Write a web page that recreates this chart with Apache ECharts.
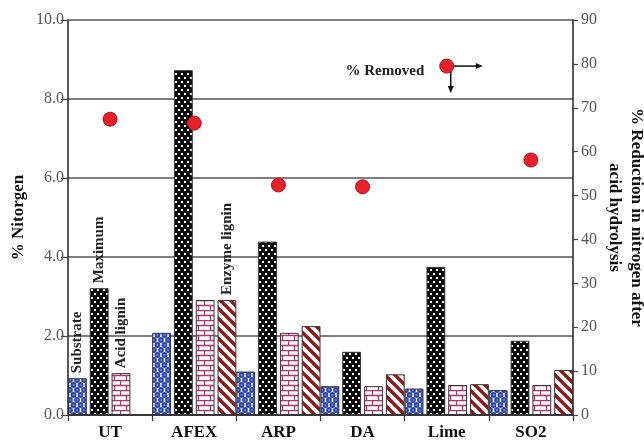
<!DOCTYPE html>
<html>
<head>
<meta charset="utf-8">
<script src="https://cdn.jsdelivr.net/npm/echarts@6/dist/echarts.min.js"></script>
<style>
  html, body { margin: 0; padding: 0; background: #fff; }
  #chart { width: 644px; height: 444px; }
</style>
</head>
<body>
<div id="chart"></div>
<script>
// Nitrogen content of pretreated substrates and their lignin residues
const categories = ['UT', 'AFEX', 'ARP', 'DA', 'Lime', 'SO2'];
const substrate = [0.93, 2.08, 1.10, 0.73, 0.67, 0.63];
const maximum = [3.21, 8.73, 4.39, 1.60, 3.75, 1.88];
const acidLignin = [1.06, 2.91, 2.08, 0.73, 0.76, 0.76];
const enzymeLignin = [null, 2.91, 2.25, 1.03, 0.78, 1.14];
// % reduction in nitrogen after acid hydrolysis
const removed = [67.4, 66.5, 52.4, 52.0, 79.5, 58.1];

const leftTicks = [0, 2, 4, 6, 8, 10];
const rightTicks = [0, 10, 20, 30, 40, 50, 60, 70, 80, 90];

const SERIF = '"Liberation Serif", "Times New Roman", serif';

function makePattern(w, h, draw) {
  const c = document.createElement('canvas');
  c.width = w; c.height = h;
  draw(c.getContext('2d'), w, h);
  return c;
}

// blue circles, staggered rows
const patSubstrate = makePattern(7, 10, (ctx, w, h) => {
  ctx.fillStyle = '#ffffff';
  ctx.fillRect(0, 0, w, h);
  [[0, 0], [7, 0], [0, 10], [7, 10], [3.5, 5]].forEach(([x, y]) => {
    ctx.fillStyle = '#2c44ad';
    ctx.beginPath(); ctx.arc(x, y, 2.9, 0, Math.PI * 2); ctx.fill();
    ctx.fillStyle = '#6f86d8';
    ctx.beginPath(); ctx.arc(x, y, 1.1, 0, Math.PI * 2); ctx.fill();
  });
});
// black with white dots
const patMaximum = makePattern(6, 8, (ctx, w, h) => {
  ctx.fillStyle = '#0a0a0a';
  ctx.fillRect(0, 0, w, h);
  ctx.fillStyle = '#ffffff';
  ctx.fillRect(1, 1, 2, 2);
  ctx.fillRect(4, 5, 2, 2);
});
// magenta bricks
const patAcid = makePattern(12, 10, (ctx, w, h) => {
  ctx.fillStyle = '#ffffff';
  ctx.fillRect(0, 0, w, h);
  ctx.strokeStyle = '#b3306c';
  ctx.lineWidth = 1.3;
  ctx.beginPath();
  ctx.moveTo(0, 0.5); ctx.lineTo(w, 0.5);
  ctx.moveTo(0, 5.5); ctx.lineTo(w, 5.5);
  ctx.moveTo(0.5, 0); ctx.lineTo(0.5, 5.5);
  ctx.moveTo(6.5, 5.5); ctx.lineTo(6.5, 10);
  ctx.stroke();
});
// dark red diagonal stripes
const patEnzyme = makePattern(10, 10, (ctx, w, h) => {
  ctx.fillStyle = '#ffffff';
  ctx.fillRect(0, 0, w, h);
  ctx.strokeStyle = '#8c1a1a';
  ctx.lineWidth = 3.4;
  ctx.beginPath();
  [-10, 0, 10].forEach(o => { ctx.moveTo(o - 2, -2); ctx.lineTo(o + 12, 12); });
  ctx.stroke();
});

const barLabel = {
  show: false,
  position: 'top',
  rotate: 90,
  align: 'left',
  verticalAlign: 'middle',
  distance: 5,
  fontFamily: SERIF,
  fontWeight: 'bold',
  fontSize: 15,
  color: '#222'
};

function withLabel(values, idx, text) {
  return values.map((v, i) => i === idx ? { value: v, label: { show: true, formatter: text } } : v);
}

function barSeries(name, data, pattern) {
  return {
    name: name,
    type: 'bar',
    yAxisIndex: 0,
    barGap: '16%',
    barCategoryGap: '0%',
    data: data,
    label: barLabel,
    itemStyle: {
      color: { image: pattern, repeat: 'repeat' },
      borderColor: '#333',
      borderWidth: 1
    }
  };
}

const chart = echarts.init(document.getElementById('chart'), null, { renderer: 'canvas' });

const option = {
  animation: false,
  backgroundColor: '#ffffff',
  grid: { left: 68, right: 71, top: 20, bottom: 29, containLabel: false, outerBoundsMode: 'none' },
  xAxis: {
    type: 'category',
    data: categories,
    axisLine: { lineStyle: { color: '#222', width: 1.5 } },
    axisTick: { show: true, interval: 0, length: 6, lineStyle: { color: '#333', width: 1.2 } },
    axisLabel: { fontFamily: SERIF, fontWeight: 'bold', fontSize: 17, color: '#111', margin: 9 }
  },
  yAxis: [
    {
      type: 'value',
      position: 'left',
      min: leftTicks[0],
      max: leftTicks[leftTicks.length - 1],
      interval: leftTicks[1] - leftTicks[0],
      name: '% Nitorgen',
      nameLocation: 'middle',
      nameGap: 41,
      nameMoveOverlap: false,
      nameTextStyle: { fontFamily: SERIF, fontWeight: 'bold', fontSize: 17, color: '#111' },
      axisLine: { show: true, lineStyle: { color: '#222', width: 1.5 } },
      axisTick: { show: true, length: 7, lineStyle: { color: '#444', width: 1.2 } },
      axisLabel: { fontFamily: SERIF, fontSize: 16, color: '#555', margin: 4, formatter: v => v.toFixed(1) },
      splitLine: { show: true, lineStyle: { color: '#555', width: 1.6 } }
    },
    {
      type: 'value',
      position: 'right',
      min: rightTicks[0],
      max: rightTicks[rightTicks.length - 1],
      interval: rightTicks[1] - rightTicks[0],
      name: '% Reduction in nitrogen after\nacid hydrolysis',
      nameLocation: 'middle',
      nameRotate: -90,
      nameGap: 30,
      nameMoveOverlap: false,
      nameTextStyle: { fontFamily: SERIF, fontWeight: 'bold', fontSize: 17, color: '#111', lineHeight: 22 },
      axisLine: { show: true, lineStyle: { color: '#222', width: 1.5 } },
      axisTick: { show: true, length: 5, lineStyle: { color: '#444', width: 1.2 } },
      axisLabel: { fontFamily: SERIF, fontSize: 16, color: '#555', margin: 8 },
      splitLine: { show: false }
    }
  ],
  series: [
    barSeries('Substrate', withLabel(substrate, 0, 'Substrate'), patSubstrate),
    barSeries('Maximum', withLabel(maximum, 0, 'Maximum'), patMaximum),
    barSeries('Acid lignin', withLabel(acidLignin, 0, 'Acid lignin'), patAcid),
    barSeries('Enzyme lignin', withLabel(enzymeLignin, 1, 'Enzyme lignin'), patEnzyme),
    {
      name: '% Removed',
      type: 'scatter',
      yAxisIndex: 1,
      symbol: 'circle',
      symbolSize: 14,
      z: 5,
      itemStyle: { color: '#e8202a', borderColor: '#b01418', borderWidth: 1, opacity: 1 },
      label: {
        show: false,
        position: 'left',
        distance: 15,
        offset: [0, 5],
        fontFamily: SERIF,
        fontWeight: 'bold',
        fontSize: 15,
        color: '#222'
      },
      data: removed.map((v, i) => i === 4 ? { value: v, label: { show: true, formatter: '% Removed' } } : v)
    }
  ]
};

chart.setOption(option);

// Arrows from the labelled point toward the right axis and down to the data
const p = chart.convertToPixel({ seriesIndex: 4 }, [4, removed[4]]);
const ax = p[0], ay = p[1];
chart.setOption({
  graphic: [
    { type: 'line', z: 1, shape: { x1: ax, y1: ay, x2: ax + 31, y2: ay }, style: { stroke: '#111', lineWidth: 1.5 } },
    { type: 'polygon', z: 1, shape: { points: [[ax + 36, ay], [ax + 29, ay - 3], [ax + 29, ay + 3]] }, style: { fill: '#111' } },
    { type: 'line', z: 1, shape: { x1: ax + 4, y1: ay, x2: ax + 4, y2: ay + 22 }, style: { stroke: '#111', lineWidth: 1.5 } },
    { type: 'polygon', z: 1, shape: { points: [[ax + 4, ay + 27], [ax + 1, ay + 20], [ax + 7, ay + 20]] }, style: { fill: '#111' } }
  ]
});
</script>
</body>
</html>
